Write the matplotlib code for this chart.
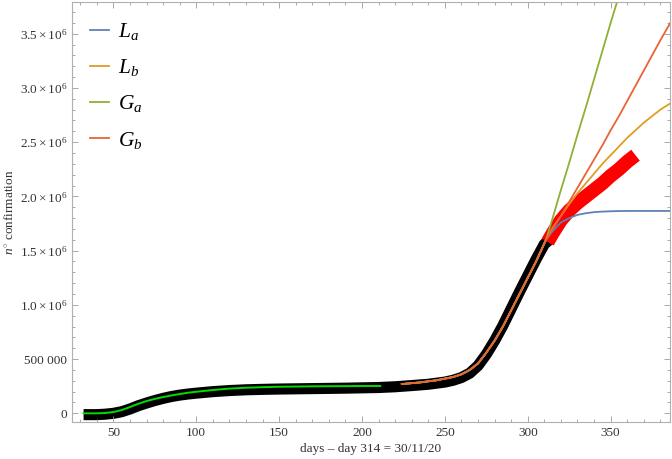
import matplotlib
matplotlib.use("Agg")
import matplotlib.pyplot as plt
from matplotlib.ticker import MultipleLocator, FuncFormatter

plt.rcParams["font.family"] = ["Liberation Serif", "DejaVu Serif"]
plt.rcParams["mathtext.fontset"] = "custom"
plt.rcParams["mathtext.rm"] = "Liberation Serif"
plt.rcParams["mathtext.it"] = "Liberation Serif:italic"

# observed data (black: fitted window, red: later days)
days_black = [32, 40, 45, 50, 55, 60, 65, 70, 75, 80, 85, 90, 95, 100, 110, 120,
              130, 140, 150, 160, 170, 180, 190, 200, 210, 220, 230, 240, 250,
              255, 260, 265, 270, 275, 280, 285, 290, 295, 300, 305, 310, 313]
cases_black = [-12e3, -12e3, -8e3, 0, 15e3, 40e3, 70e3, 95e3, 118e3, 138e3, 155e3,
               168e3, 178e3, 186e3, 200e3, 210e3, 217e3, 221e3, 224e3, 226e3,
               228e3, 230e3, 232e3, 235e3, 238e3, 245e3, 256e3, 268e3, 288e3,
               305e3, 330e3, 370e3, 440e3, 545e3, 670e3, 810e3, 965e3, 1.12e6,
               1.27e6, 1.42e6, 1.56e6, 1.6e6]
days_red = [312, 315, 320, 325, 330, 335, 340, 345, 350, 355, 360, 365]
cases_red = [1.58e6, 1.66e6, 1.78e6, 1.87e6, 1.94e6, 2.0e6, 2.06e6, 2.12e6,
             2.19e6, 2.25e6, 2.32e6, 2.38e6]

# first-wave fit
days_fit1 = [32, 40, 45, 50, 55, 60, 65, 70, 75, 80, 85, 90, 95, 100, 110, 120,
             130, 140, 150, 160, 170, 180, 190, 200, 211]
fit1 = [0, 0, 3e3, 12e3, 30e3, 58e3, 88e3, 113e3, 133e3, 150e3, 165e3, 178e3,
        190e3, 199e3, 215e3, 228e3, 236e3, 241e3, 245e3, 247e3, 249e3, 250e3,
        251e3, 252e3, 252e3]

# second-wave fits
days_fit2 = [224, 235, 245, 255, 260, 265, 270, 275, 280, 285, 290, 295, 300,
             305, 311, 315, 320, 325, 330, 335, 340, 345, 350, 355, 360, 365,
             370, 375, 380, 386]
common = [270e3, 285e3, 305e3, 335e3, 360e3, 400e3, 460e3, 560e3, 670e3, 800e3,
          950e3, 1.10e6, 1.25e6, 1.40e6, 1.60e6]
La = common + [1.68e6, 1.76e6, 1.80e6, 1.83e6, 1.845e6, 1.855e6, 1.86e6, 1.863e6,
               1.865e6, 1.866e6, 1.866e6, 1.866e6, 1.866e6, 1.866e6, 1.866e6]
Lb = common + [1.71e6, 1.82e6, 1.93e6, 2.03e6, 2.12e6, 2.21e6, 2.30e6, 2.38e6,
               2.46e6, 2.54e6, 2.61e6, 2.68e6, 2.74e6, 2.80e6, 2.858e6]
Ga = common + [1.80e6, 2.06e6, 2.31e6, 2.57e6, 2.82e6, 3.08e6, 3.34e6, 3.60e6,
               3.85e6, 4.11e6, 4.37e6, 4.62e6, 4.88e6, 5.14e6, 5.45e6]
Gb = common + [1.70e6, 1.82e6, 1.95e6, 2.08e6, 2.21e6, 2.34e6, 2.47e6, 2.61e6,
               2.74e6, 2.88e6, 3.02e6, 3.16e6, 3.30e6, 3.44e6, 3.60e6]

fits = [("$L_a$", La, "#5E81B5"), ("$L_b$", Lb, "#E19C24"),
        ("$G_a$", Ga, "#8FB032"), ("$G_b$", Gb, "#EB6235")]

fig = plt.figure(figsize=(6.72, 4.59), dpi=100)
ax = fig.add_axes([0.1071, 0.0813, 0.8899, 0.9133])

ax.plot(days_black, cases_black, color="black", lw=8, solid_capstyle="butt", zorder=1)
ax.plot(days_red, cases_red, color="red", lw=10, solid_capstyle="butt", zorder=1)
ax.plot(days_fit1, fit1, color="#00dd00", lw=1.4, zorder=3)
for lab, vals, col in fits:
    ax.plot(days_fit2, vals, color=col, lw=1.3, label=lab, zorder=2)

ax.set_xlim(25, 385.8)
ax.set_ylim(-77e3, 3.788e6)

ax.xaxis.set_major_locator(MultipleLocator(50))
ax.xaxis.set_minor_locator(MultipleLocator(10))
ax.yaxis.set_major_locator(MultipleLocator(5e5))
ax.yaxis.set_minor_locator(MultipleLocator(1e5))


def yfmt(v, pos):
    if abs(v) < 1:
        return "0"
    if v < 9e5:
        return f"{int(v/1000)} 000"
    return r"$%.1f\times10^{6}$" % (v / 1e6)


ax.yaxis.set_major_formatter(FuncFormatter(yfmt))

for s in ax.spines.values():
    s.set_color("#b0b0b0")
    s.set_linewidth(0.8)
ax.tick_params(which="both", direction="in", top=True, right=True,
               colors="#9a9a9a", labelcolor="#333333", labelsize=9.5, width=0.6)
ax.tick_params(which="major", length=4)
ax.tick_params(which="minor", length=2)

ax.set_xlabel("days – day 314 = 30/11/20", fontsize=9.5, color="#333333", labelpad=3)
ax.set_ylabel(r"$n^{\circ}$ confirmation", fontsize=9.5, color="#333333", labelpad=2)

ax.legend(loc="upper left", bbox_to_anchor=(0.03, 0.955), frameon=False,
          fontsize=15.5, handlelength=0.9, handletextpad=0.4, labelspacing=0.7,
          borderaxespad=0, borderpad=0)

fig.savefig("out.png", dpi=100)
